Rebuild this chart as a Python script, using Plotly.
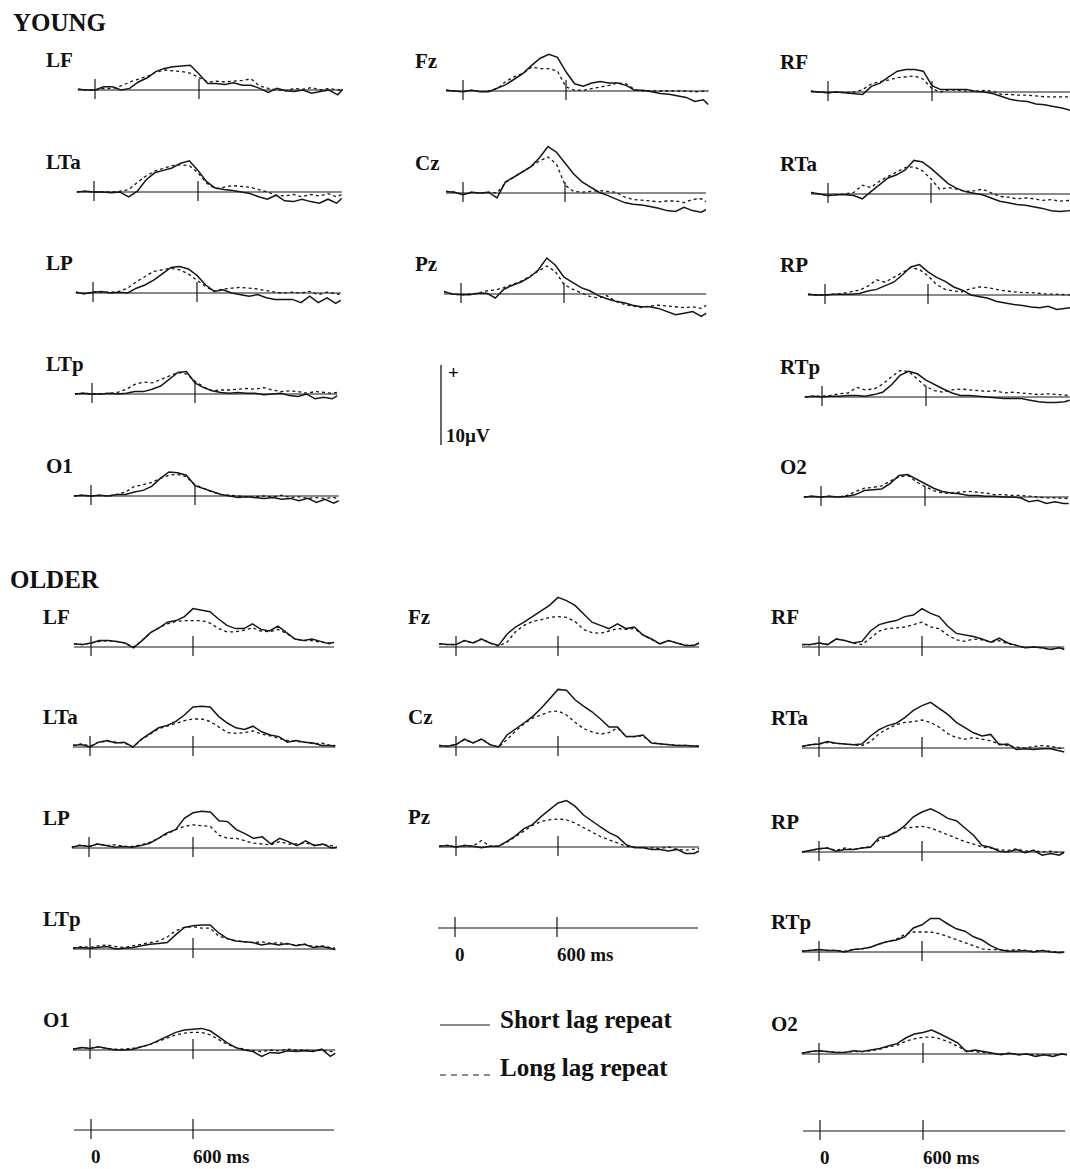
import plotly.graph_objects as go

W, H = 1070, 1169
PX_PER_UV = 8.0
INK = "#161616"
SERIF = "Liberation Serif"

# ---------------- data ----------------
TIME_MS = [-100, -50, 0, 50, 100, 150, 200, 250, 300, 350, 400, 450, 500, 550, 600, 650,
           700, 750, 800, 850, 900, 950, 1000, 1050, 1100, 1150, 1200, 1250, 1300, 1350, 1400, 1430]
TICK_MS = [0, 600]
TICK_LABELS = ["0", "600 ms"]
SCALE_UV = 10
CONDITIONS = ["Short lag repeat", "Long lag repeat"]
GROUPS = ["YOUNG", "OLDER"]

# YOUNG (µV)
Y_LF_S = [0.1,0.0,0.0,0.4,0.4,0.0,0.2,1.0,1.5,2.3,2.7,2.9,3.0,3.1,2.0,0.8,
          0.8,0.7,0.9,0.6,0.6,0.2,-0.3,0.2,-0.1,-0.2,0.0,-0.4,-0.2,0.0,-0.6,0.1]
Y_LF_L = [0.1,0.0,0.0,0.2,0.2,0.5,1.0,1.4,1.7,2.2,2.5,2.4,2.3,2.1,1.5,1.0,
          1.1,1.0,1.1,1.2,1.4,0.5,0.2,0.0,-0.1,0.2,0.1,0.3,0.0,0.2,0.0,0.0]
Y_LTA_S = [0.0,0.1,0.0,0.0,-0.1,0.0,-0.6,0.1,1.5,2.4,2.7,3.0,3.6,3.9,2.7,1.3,
           0.5,0.3,0.2,0.0,-0.2,-0.6,-0.9,-0.4,-1.1,-1.2,-0.9,-1.2,-1.4,-0.9,-1.4,-0.8]
Y_LTA_L = [0.0,0.1,0.0,0.0,0.0,0.1,0.3,1.2,2.0,2.6,3.0,3.3,3.4,3.3,2.4,1.1,
           0.4,0.6,0.8,0.7,0.6,0.3,0.0,-0.4,-0.5,-0.3,-0.6,-0.3,-0.5,-0.2,-0.6,-0.3]
Y_LP_S = [0.1,-0.1,0.1,0.2,0.0,0.1,0.0,0.6,1.0,1.6,2.4,3.2,3.3,3.0,2.2,1.0,
          0.2,0.4,0.0,-0.2,-0.4,-0.2,-0.6,-0.8,-0.8,-0.8,-1.2,-0.4,-1.2,-0.6,-1.3,-0.9]
Y_LP_L = [0.1,-0.1,0.1,0.1,0.1,0.2,0.6,1.4,2.0,2.7,2.9,3.1,2.9,2.4,1.6,0.8,
          0.2,0.5,0.6,0.7,0.6,0.5,0.3,0.1,0.0,0.1,0.0,0.2,-0.2,0.1,-0.1,-0.2]
Y_LTP_S = [0.0,0.1,0.0,0.0,0.1,0.0,0.1,0.3,0.3,0.6,1.0,1.8,2.7,2.8,1.4,0.8,
           0.4,0.2,0.1,0.2,0.1,0.1,-0.1,0.0,0.1,-0.2,-0.3,0.0,-0.6,-0.4,-0.6,-0.2]
Y_LTP_L = [0.0,0.1,0.0,0.0,0.1,0.2,0.6,1.2,1.5,1.4,1.8,2.3,2.7,2.5,1.6,0.9,
           0.4,0.5,0.5,0.6,0.7,0.6,0.8,0.5,0.3,0.4,0.3,0.1,0.3,0.2,0.1,0.2]
Y_O1_S = [0.0,0.1,0.0,0.1,0.0,0.2,0.2,0.5,0.7,1.2,2.2,3.0,2.9,2.6,1.3,0.9,
          0.5,0.2,0.0,-0.2,-0.1,-0.2,-0.3,-0.2,-0.4,-0.3,-0.6,-0.3,-0.8,-0.4,-0.9,-0.6]
Y_O1_L = [0.0,0.1,0.0,0.1,0.0,0.2,0.5,1.2,1.4,1.7,2.2,2.6,2.7,2.4,1.4,0.9,
          0.5,0.2,0.1,0.0,-0.1,-0.1,0.0,-0.1,0.1,-0.2,-0.1,-0.3,-0.2,-0.3,-0.2,-0.3]
Y_FZ_S = [0.1,0.0,-0.1,0.1,-0.1,-0.1,0.3,0.8,1.5,2.2,3.2,4.1,4.6,4.2,2.4,0.9,
          0.6,1.0,1.2,1.0,1.0,0.7,0.1,0.1,-0.1,-0.3,-0.4,-0.6,-0.8,-1.3,-1.1,-1.7]
Y_FZ_L = [0.1,0.0,-0.1,0.1,-0.1,0.0,0.3,1.2,1.8,2.2,3.0,2.8,2.8,2.5,0.5,0.1,
          0.1,0.3,0.5,0.7,1.0,0.9,0.2,0.0,0.0,0.0,0.0,0.0,0.0,-0.1,0.0,0.0]
Y_CZ_S = [0.2,0.1,-0.2,0.1,0.0,0.1,-0.6,1.4,2.0,2.6,3.3,4.4,5.8,5.1,3.8,2.4,
          1.4,0.8,0.1,-0.3,-0.7,-1.2,-1.4,-1.5,-1.7,-1.9,-2.2,-2.3,-1.8,-2.2,-2.4,-2.1]
Y_CZ_L = [0.2,0.1,-0.2,0.1,0.0,0.1,0.0,1.3,2.0,2.6,3.3,4.0,4.5,3.6,1.0,0.2,
          0.1,0.2,0.3,0.2,0.1,-0.5,-0.8,-0.9,-1.0,-1.1,-1.0,-1.0,-1.2,-0.8,-0.7,-1.1]
Y_PZ_S = [0.3,0.0,-0.1,-0.1,0.1,0.1,-0.5,0.6,1.1,1.5,2.1,3.0,4.5,3.6,2.1,1.4,
          0.8,0.4,-0.2,-0.6,-0.9,-1.1,-1.4,-1.6,-1.6,-1.8,-2.2,-2.6,-2.4,-2.2,-2.8,-2.4]
Y_PZ_L = [0.3,0.0,-0.1,0.0,0.1,0.4,0.5,0.8,1.2,1.6,2.2,2.9,3.5,2.8,1.2,0.6,
          0.2,-0.3,-0.5,-0.2,-0.9,-1.3,-1.5,-1.7,-1.5,-1.4,-1.5,-1.6,-1.7,-1.6,-1.8,-1.4]
Y_RF_S = [0.1,0.0,-0.1,0.0,-0.1,-0.2,-0.3,0.7,1.1,1.9,2.6,2.8,2.8,2.6,0.8,0.3,
          0.3,0.3,0.3,0.1,0.0,-0.2,-0.6,-0.9,-1.1,-1.2,-1.5,-1.6,-1.8,-2.0,-2.3,-2.4]
Y_RF_L = [0.1,0.0,-0.1,0.0,-0.1,0.0,0.3,1.0,1.3,1.5,1.8,1.9,2.0,1.6,0.4,0.0,
          0.3,0.2,0.1,0.1,0.2,0.1,-0.3,-0.3,-0.4,-0.4,-0.5,-0.6,-0.6,-0.6,-0.6,-0.6]
Y_RTA_S = [0.2,0.0,-0.2,-0.1,-0.1,-0.2,-0.6,0.3,1.1,2.0,2.4,3.0,4.2,4.0,3.2,2.2,
           1.3,0.7,0.3,0.1,-0.1,-0.5,-0.9,-1.1,-1.3,-1.4,-1.6,-1.8,-2.1,-2.2,-2.1,-2.0]
Y_RTA_L = [0.2,0.0,-0.2,-0.1,0.0,0.2,1.1,0.8,1.6,2.2,2.8,3.3,3.4,2.9,1.9,0.6,
           0.8,0.6,0.3,0.4,0.6,0.2,-0.3,-0.4,-0.6,-0.5,-0.6,-0.8,-0.7,-0.9,-0.8,-0.9]
Y_RP_S = [0.1,0.0,0.0,0.1,0.1,0.1,0.2,0.5,0.7,1.1,1.6,2.5,3.5,3.8,2.9,2.2,
          1.7,1.0,0.6,0.0,-0.2,-0.4,-0.8,-1.0,-1.2,-1.3,-1.5,-1.6,-1.4,-1.8,-1.7,-1.6]
Y_RP_L = [0.1,0.0,0.0,0.1,0.2,0.4,0.6,1.1,1.9,1.6,2.2,2.9,3.4,3.2,2.4,1.3,
          0.7,0.5,0.4,0.8,1.0,0.9,0.7,0.5,0.4,0.3,0.3,0.2,0.1,0.1,0.0,0.0]
Y_RTP_S = [0.0,0.1,0.0,0.1,0.1,0.2,0.2,0.1,0.3,0.6,1.5,2.7,3.2,2.9,2.1,1.5,
           1.0,0.5,0.2,0.2,0.1,0.0,-0.1,-0.2,-0.2,-0.2,-0.4,-0.6,-0.7,-0.7,-0.6,-0.4]
Y_RTP_L = [0.0,0.1,0.1,0.2,0.4,0.5,1.2,0.9,1.0,1.6,2.5,3.3,3.2,2.3,1.3,0.8,
           0.6,0.9,1.0,0.9,0.8,0.7,0.8,0.5,0.6,0.5,0.4,0.3,0.4,0.3,0.2,0.2]
Y_O2_S = [0.0,0.1,0.0,0.1,0.0,0.1,0.3,0.8,0.9,1.0,1.7,2.7,2.8,2.2,1.7,1.1,
          0.7,0.5,0.4,0.2,0.2,0.1,0.1,0.0,0.0,-0.1,-0.6,-0.4,-0.8,-0.6,-0.8,-0.8]
Y_O2_L = [0.0,0.1,0.0,0.1,0.0,0.2,0.7,1.1,1.2,1.4,2.0,2.5,2.7,1.9,1.3,0.8,
          0.5,0.5,0.6,0.7,0.6,0.5,0.3,0.3,0.2,0.2,0.1,0.0,-0.1,-0.1,-0.2,-0.2]

# OLDER (µV)
O_LF_S = [0.4,0.3,0.5,0.8,0.8,0.7,0.5,-0.1,0.8,1.8,2.4,3.1,3.3,3.8,4.8,4.6,
          4.4,3.5,2.7,2.3,2.3,2.9,2.2,2.0,2.6,1.8,1.0,0.8,1.0,0.7,0.4,0.6]
O_LF_L = [0.4,0.3,0.5,0.7,0.8,0.7,0.5,0.0,0.8,1.8,2.4,2.9,3.2,3.3,3.3,3.3,
          3.0,2.3,1.9,1.9,2.1,2.4,2.0,1.9,2.2,1.7,1.0,0.8,0.8,0.6,0.5,0.5]
O_LTA_S = [0.2,0.3,0.0,0.6,0.8,0.5,0.6,0.0,1.0,1.7,2.4,2.7,3.2,4.0,5.0,5.1,
           5.0,3.8,3.0,2.4,2.2,2.6,1.9,1.5,1.3,0.6,0.8,0.6,0.5,0.2,0.2,0.1]
O_LTA_L = [0.2,0.4,0.1,0.6,0.7,0.6,0.5,0.0,0.9,1.6,2.3,2.6,3.0,3.3,3.5,3.5,
           3.2,2.5,1.8,1.7,1.8,2.0,1.6,1.4,1.1,0.8,0.7,0.6,0.4,0.5,0.2,0.2]
O_LP_S = [0.1,0.3,0.2,0.5,0.3,0.1,0.2,0.1,0.3,0.6,1.2,1.9,2.3,3.7,4.4,4.6,
          4.5,3.4,3.3,2.3,1.8,1.2,1.4,0.5,1.2,0.8,0.3,0.9,0.3,0.5,0.0,0.1]
O_LP_L = [0.1,0.4,0.2,0.5,0.3,0.4,0.2,0.2,0.4,0.7,1.2,1.8,2.3,2.7,2.9,2.8,
          2.7,1.6,1.2,1.2,0.9,0.6,0.5,0.4,0.8,0.5,0.5,0.6,0.4,0.4,0.3,0.1]
O_LTP_S = [0.1,0.2,0.1,0.2,0.3,0.0,0.1,0.2,0.4,0.6,0.7,0.8,1.8,2.7,2.9,3.0,
           3.0,2.0,1.3,1.0,0.9,0.8,0.5,0.7,0.5,0.7,0.4,0.6,0.2,0.3,0.1,-0.1]
O_LTP_L = [0.1,0.3,0.2,0.4,0.5,0.3,0.2,0.4,0.6,0.8,1.0,1.5,2.3,2.7,2.8,2.6,
           2.6,1.6,1.3,1.0,0.9,0.8,0.9,0.7,0.8,0.6,0.5,0.6,0.3,0.4,0.2,0.1]
O_O1_S = [0.1,0.3,0.2,0.4,0.2,0.0,0.0,0.1,0.4,0.7,1.2,1.7,2.2,2.5,2.6,2.7,
          2.4,1.6,0.9,0.3,0.0,-0.2,-0.8,-0.3,-0.4,-0.1,-0.2,-0.1,-0.2,0.1,-0.8,-0.4]
O_O1_L = [0.1,0.3,0.2,0.4,0.2,0.1,0.1,0.2,0.4,0.7,1.1,1.5,1.9,2.1,2.2,2.2,
          1.9,1.3,0.7,0.3,0.1,-0.1,-0.2,0.0,-0.1,0.1,0.0,0.0,-0.1,0.0,-0.2,-0.1]
O_FZ_S = [0.4,0.3,0.3,0.8,0.5,1.0,0.5,0.2,1.6,2.5,3.1,3.8,4.6,5.2,6.2,5.8,
          5.2,4.2,3.1,2.7,2.3,2.9,2.3,2.5,1.5,1.0,0.4,0.8,0.5,0.2,0.2,0.5]
O_FZ_L = [0.4,0.3,0.3,0.8,0.5,1.0,0.5,0.1,0.6,1.9,2.7,3.2,3.4,3.7,3.8,3.7,
          3.2,2.2,1.8,1.7,2.0,2.3,2.2,2.3,1.5,1.0,0.4,0.8,0.5,0.2,0.2,0.5]
O_CZ_S = [0.2,0.1,0.3,1.0,0.5,1.0,0.3,0.0,1.5,2.2,3.0,3.8,4.8,6.0,7.2,7.1,
          5.9,5.1,4.4,3.5,2.5,2.5,1.3,1.3,1.5,0.5,0.4,0.3,0.2,0.2,0.1,0.1]
O_CZ_L = [0.2,0.1,0.3,0.9,0.5,1.0,0.3,0.0,0.9,2.0,2.9,3.6,4.0,4.4,4.5,4.0,
          3.1,2.3,1.9,1.6,1.8,2.4,1.3,1.3,1.4,0.5,0.4,0.3,0.2,0.2,0.1,0.1]
O_PZ_S = [0.1,0.2,0.0,0.2,0.1,-0.1,0.1,0.1,0.7,1.4,2.3,2.8,3.8,4.6,5.5,5.8,
          5.1,4.0,3.2,2.5,1.8,1.3,0.3,-0.1,-0.1,-0.3,-0.3,-0.5,-0.3,-0.8,-0.8,-0.5]
O_PZ_L = [0.1,0.2,0.0,0.2,0.1,0.8,0.1,0.1,0.6,1.3,2.1,2.7,3.2,3.4,3.5,3.4,
          3.0,2.4,1.8,1.3,0.9,0.5,0.1,0.0,-0.1,-0.1,-0.2,0.0,-0.3,-0.4,-0.3,-0.2]
O_RF_S = [0.3,0.3,0.5,0.3,1.0,0.8,0.5,0.7,2.0,2.8,3.1,3.3,3.8,4.0,4.8,4.2,
          3.8,2.6,1.7,1.5,1.3,1.0,0.6,1.1,0.5,0.2,-0.1,0.0,-0.1,-0.3,-0.1,-0.3]
O_RF_L = [0.3,0.3,0.5,0.3,1.0,0.8,0.5,0.3,1.1,2.0,2.3,2.4,2.5,2.8,3.1,2.5,
          2.3,1.5,0.9,0.7,1.0,0.9,0.6,0.8,0.4,0.2,-0.1,0.0,-0.1,-0.3,-0.1,-0.3]
O_RTA_S = [0.2,0.4,0.5,0.8,0.6,0.5,0.4,0.5,1.5,2.3,2.8,3.1,3.8,4.7,5.3,5.7,
           5.0,4.2,3.2,2.5,1.9,1.5,1.7,0.4,0.5,-0.2,-0.1,-0.2,-0.1,-0.1,-0.3,-0.5]
O_RTA_L = [0.2,0.4,0.5,0.7,0.6,0.5,0.4,0.3,0.8,1.8,2.4,2.9,3.2,3.3,3.5,3.2,
           2.6,1.8,1.3,1.1,1.3,1.1,0.9,0.5,0.3,0.1,0.0,0.2,0.3,0.2,0.0,-0.2]
O_RP_S = [0.0,0.2,0.4,0.5,0.1,0.3,0.3,0.5,0.6,1.8,2.0,2.5,3.3,4.4,5.0,5.4,
          4.9,4.2,3.9,3.0,2.1,0.8,0.6,0.1,0.0,0.3,-0.1,0.2,-0.4,-0.2,-0.4,0.0]
O_RP_L = [0.0,0.2,0.4,0.5,0.2,0.5,0.3,0.5,0.7,1.5,1.9,2.6,3.0,3.1,3.2,3.0,
          2.6,2.1,1.7,1.3,1.0,0.6,0.5,0.3,0.2,0.4,0.1,0.2,0.0,0.1,-0.1,-0.2]
O_RTP_S = [0.1,0.2,0.3,0.2,0.2,0.0,0.3,0.4,0.6,1.0,1.3,1.5,1.9,3.0,3.4,4.2,
           4.2,3.5,2.9,2.6,1.9,1.5,0.8,0.3,0.1,0.1,0.2,0.0,0.2,0.0,-0.1,0.0]
O_RTP_L = [0.1,0.2,0.3,0.2,0.2,0.1,0.3,0.4,0.6,1.0,1.3,1.6,2.2,2.5,2.5,2.5,
           2.3,1.9,1.5,1.1,0.7,0.4,0.3,0.3,0.2,0.3,0.2,0.1,0.2,0.1,0.0,-0.1]
O_O2_S = [0.1,0.3,0.4,0.3,0.2,0.2,0.4,0.3,0.5,0.7,1.0,1.3,2.0,2.5,2.7,3.0,
          2.5,2.0,1.4,0.3,0.5,0.3,0.1,-0.1,0.1,-0.1,0.0,-0.3,-0.1,-0.3,0.0,-0.1]
O_O2_L = [0.1,0.3,0.4,0.3,0.2,0.2,0.3,0.3,0.4,0.6,0.9,1.1,1.6,1.9,2.1,2.1,
          1.9,1.5,1.0,0.4,0.3,0.2,0.1,0.0,0.1,-0.1,0.0,-0.1,-0.1,-0.2,0.0,-0.1]

# ---------------- layout (pixel placement of each panel) ----------------
# (electrode, short, long, px of 0 ms, px of 600 ms, baseline px, label-x px)
PANELS = [
    ("LF",  Y_LF_S,  Y_LF_L,  95, 199,  90, 45),
    ("LTa", Y_LTA_S, Y_LTA_L, 94, 198, 192, 45),
    ("LP",  Y_LP_S,  Y_LP_L,  93, 197, 293, 45),
    ("LTp", Y_LTP_S, Y_LTP_L, 92, 195, 394, 45),
    ("O1",  Y_O1_S,  Y_O1_L,  91, 195, 496, 45),
    ("Fz",  Y_FZ_S,  Y_FZ_L, 463, 566,  91, 414),
    ("Cz",  Y_CZ_S,  Y_CZ_L, 463, 565, 193, 414),
    ("Pz",  Y_PZ_S,  Y_PZ_L, 461, 564, 294, 414),
    ("RF",  Y_RF_S,  Y_RF_L, 828, 932,  92, 779),
    ("RTa", Y_RTA_S, Y_RTA_L, 828, 931, 194, 779),
    ("RP",  Y_RP_S,  Y_RP_L, 825, 928, 295, 779),
    ("RTp", Y_RTP_S, Y_RTP_L, 822, 926, 397, 779),
    ("O2",  Y_O2_S,  Y_O2_L, 821, 925, 497, 779),
    ("LF",  O_LF_S,  O_LF_L,  91, 193, 647, 42),
    ("LTa", O_LTA_S, O_LTA_L, 90, 193, 747, 42),
    ("LP",  O_LP_S,  O_LP_L,  89, 193, 848, 42),
    ("LTp", O_LTP_S, O_LTP_L, 90, 193, 949, 42),
    ("O1",  O_O1_S,  O_O1_L,  90, 193, 1050, 42),
    ("Fz",  O_FZ_S,  O_FZ_L, 456, 558, 647, 407),
    ("Cz",  O_CZ_S,  O_CZ_L, 456, 558, 747, 407),
    ("Pz",  O_PZ_S,  O_PZ_L, 456, 558, 847, 407),
    ("RF",  O_RF_S,  O_RF_L, 819, 922, 647, 770),
    ("RTa", O_RTA_S, O_RTA_L, 819, 922, 748, 770),
    ("RP",  O_RP_S,  O_RP_L, 819, 922, 852, 770),
    ("RTp", O_RTP_S, O_RTP_L, 819, 922, 952, 770),
    ("O2",  O_O2_S,  O_O2_L, 819, 923, 1054, 770),
]
# stand-alone time scales: (px of 0 ms, px of 600 ms, baseline px)
TIME_SCALES = [(455, 557, 928), (91, 193, 1130), (820, 923, 1131)]

TOP, BOT = 72, 32          # px above / below the baseline in each panel
TICK_UP, TICK_DN = 11, 9   # tick extent in px


def fx(px):
    return px / W


def fy(py):
    return 1 - py / H


fig = go.Figure()
layout_axes = {}
shapes = []
annotations = []
axis_n = [0]


def new_axes(p0, p6, yb, top=TOP, bot=BOT):
    axis_n[0] += 1
    i = axis_n[0]
    sfx = "" if i == 1 else str(i)
    k = (p6 - p0) / 600.0
    xl = p0 - 100 * k
    xr = min(p0 + TIME_MS[-1] * k, W)
    xmax = (xr - p0) / k
    layout_axes["xaxis" + sfx] = dict(domain=[fx(xl), fx(xr)], range=[-100, xmax],
                                      visible=False, anchor="y" + sfx, fixedrange=True)
    layout_axes["yaxis" + sfx] = dict(domain=[fy(yb + bot), fy(yb - top)],
                                      range=[-bot / PX_PER_UV, top / PX_PER_UV],
                                      visible=False, anchor="x" + sfx, fixedrange=True)
    return "x" + sfx, "y" + sfx, xmax


def baseline_and_ticks(xr, yr, xmax, trace_baseline=False):
    if trace_baseline:
        fig.add_trace(go.Scatter(x=[-100, xmax], y=[0, 0], xaxis=xr, yaxis=yr, mode="lines",
                                 line=dict(color=INK, width=1.1), showlegend=False, hoverinfo="skip"))
    else:
        shapes.append(dict(type="line", xref=xr, yref=yr, x0=-100, x1=xmax, y0=0, y1=0,
                           line=dict(color=INK, width=1.1), layer="below"))
    for t in TICK_MS:
        shapes.append(dict(type="line", xref=xr, yref=yr, x0=t, x1=t,
                           y0=-TICK_DN / PX_PER_UV, y1=TICK_UP / PX_PER_UV,
                           line=dict(color=INK, width=1.2), layer="below"))


LABEL_FONT = dict(family=SERIF, size=21, color="#111")

for name, s_vals, l_vals, p0, p6, yb, lx in PANELS:
    xr, yr, xmax = new_axes(p0, p6, yb)
    baseline_and_ticks(xr, yr, xmax)
    fig.add_trace(go.Scatter(x=TIME_MS, y=l_vals, xaxis=xr, yaxis=yr, mode="lines",
                             name=CONDITIONS[1],
                             line=dict(color=INK, width=1.3, dash="3px,3px"),
                             showlegend=False, hoverinfo="skip"))
    fig.add_trace(go.Scatter(x=TIME_MS, y=s_vals, xaxis=xr, yaxis=yr, mode="lines",
                             name=CONDITIONS[0],
                             line=dict(color=INK, width=1.5),
                             showlegend=False, hoverinfo="skip"))
    annotations.append(dict(xref="paper", yref="paper", x=fx(lx), y=fy(yb - 30),
                            text=f"<b>{name}</b>", showarrow=False, xanchor="left",
                            yanchor="middle", borderpad=0, font=LABEL_FONT))

# time scale bars with labels
for p0, p6, yb in TIME_SCALES:
    xr, yr, xmax = new_axes(p0, p6, yb)
    baseline_and_ticks(xr, yr, xmax, trace_baseline=True)
    for t, lab in zip(TICK_MS, TICK_LABELS):
        annotations.append(dict(xref=xr, yref="paper", x=t, y=fy(yb + 26),
                                text=f"<b>{lab}</b>", showarrow=False, xanchor="left",
                                yanchor="middle", xshift=-1, borderpad=0,
                                font=dict(family=SERIF, size=19, color="#111")))

# voltage scale bar (10 µV, positive up)
axis_n[0] += 1
si = str(axis_n[0])
SB_X, SB_Y0 = 441, 445
layout_axes["xaxis" + si] = dict(domain=[fx(SB_X - 5), fx(SB_X + 5)], range=[-1, 1],
                                 visible=False, anchor="y" + si, fixedrange=True)
layout_axes["yaxis" + si] = dict(domain=[fy(SB_Y0), fy(SB_Y0 - SCALE_UV * PX_PER_UV)],
                                 range=[0, SCALE_UV], visible=False, anchor="x" + si,
                                 fixedrange=True)
fig.add_trace(go.Scatter(x=[0, 0], y=[0, SCALE_UV], xaxis="x" + si, yaxis="y" + si,
                         mode="lines", line=dict(color=INK, width=1.3),
                         showlegend=False, hoverinfo="skip"))
annotations.append(dict(xref="paper", yref="paper", x=fx(447), y=fy(372), text="<b>+</b>",
                        showarrow=False, xanchor="left", yanchor="middle", borderpad=0,
                        font=dict(family=SERIF, size=19, color="#000")))
annotations.append(dict(xref="paper", yref="paper", x=fx(445), y=fy(435),
                        text=f"<b>{SCALE_UV}µV</b>", showarrow=False, xanchor="left",
                        yanchor="middle", borderpad=0,
                        font=dict(family=SERIF, size=19, color="#111")))

# group titles
for g, (gx, gy) in zip(GROUPS, [(12, 23), (9, 580)]):
    annotations.append(dict(xref="paper", yref="paper", x=fx(gx), y=fy(gy),
                            text=f"<b>{g}</b>", showarrow=False, xanchor="left",
                            yanchor="middle", borderpad=0,
                            font=dict(family=SERIF, size=25, color="#111")))

# condition key
for cond, dash, ly, ty in [(CONDITIONS[0], "solid", 1025, 1020), (CONDITIONS[1], "6px,5px", 1075, 1067)]:
    shapes.append(dict(type="line", xref="paper", yref="paper", x0=fx(440), x1=fx(490),
                       y0=fy(ly), y1=fy(ly), line=dict(color=INK, width=1.2, dash=dash)))
    annotations.append(dict(xref="paper", yref="paper", x=fx(499), y=fy(ty),
                            text=f"<b>{cond}</b>", showarrow=False, xanchor="left",
                            yanchor="middle", borderpad=0,
                            font=dict(family=SERIF, size=25, color="#111")))

fig.update_layout(
    width=W, height=H,
    margin=dict(l=0, r=0, t=0, b=0),
    paper_bgcolor="white", plot_bgcolor="rgba(0,0,0,0)",
    showlegend=False,
    shapes=shapes, annotations=annotations,
    **layout_axes,
)

fig.write_html("out.html")
